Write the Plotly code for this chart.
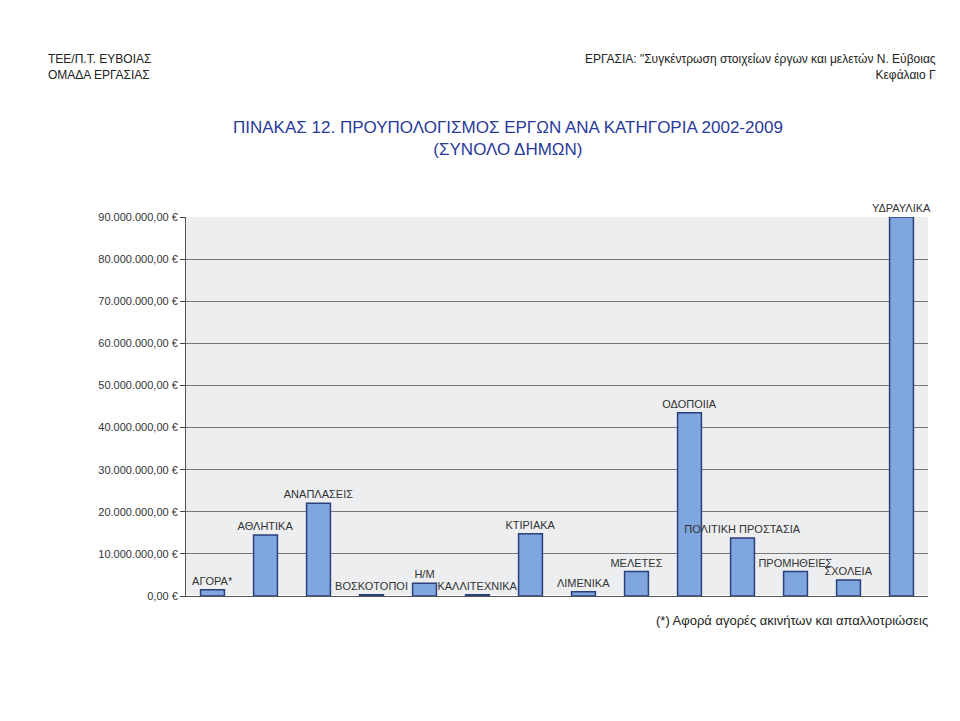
import plotly.graph_objects as go

categories = ["ΑΓΟΡΑ*", "ΑΘΛΗΤΙΚΑ", "ΑΝΑΠΛΑΣΕΙΣ", "ΒΟΣΚΟΤΟΠΟΙ", "Η/Μ", "ΚΑΛΛΙΤΕΧΝΙΚΑ",
              "ΚΤΙΡΙΑΚΑ", "ΛΙΜΕΝΙΚΑ", "ΜΕΛΕΤΕΣ", "ΟΔΟΠΟΙΙΑ", "ΠΟΛΙΤΙΚΗ ΠΡΟΣΤΑΣΙΑ",
              "ΠΡΟΜΗΘΕΙΕΣ", "ΣΧΟΛΕΙΑ", "ΥΔΡΑΥΛΙΚΑ"]
values = [1500000, 14500000, 22000000, 300000, 3000000, 300000,
          14800000, 1000000, 5800000, 43500000, 13800000,
          5800000, 3800000, 90000000]
tick_vals = [0, 10e6, 20e6, 30e6, 40e6, 50e6, 60e6, 70e6, 80e6, 90e6]
tick_text = ["0,00 €"] + [f"{int(v/1e6)}.000.000,00 €" for v in tick_vals[1:]]

fig = go.Figure(go.Bar(
    x=categories, y=values, text=categories, textposition="outside",
    cliponaxis=False, width=0.45, constraintext="none", textangle=0,
    marker=dict(color="#7fa6df", line=dict(color="#2b3f7a", width=1.5)),
    textfont=dict(family="Liberation Sans", size=11, color="#333"),
))
W, L, R, T, B = 960, 178, 40, 209, 133
pw, ph = W - L - R, 721 - T - B

def px(x):
    return (x - L) / pw

def py(y):
    return (721 - B - y) / ph

fig.update_layout(
    width=960, height=721, paper_bgcolor="white", plot_bgcolor="#eceef0",
    margin=dict(l=L, r=R, t=T, b=B),
    showlegend=False, uniformtext=dict(mode=False),
    font=dict(family="Liberation Sans", color="#222"),
    xaxis=dict(showticklabels=False, showline=True, linecolor="#555"),
    yaxis=dict(range=[0, 90e6], tickvals=tick_vals, ticktext=tick_text,
               gridcolor="#777", showline=True, linecolor="#555", ticks="outside",
               tickfont=dict(size=11, color="#333")),
    annotations=[
        dict(text="ΤΕΕ/Π.Τ. ΕΥΒΟΙΑΣ<br>ΟΜΑΔΑ ΕΡΓΑΣΙΑΣ", x=px(38), y=py(42), xref="paper", yref="paper",
             showarrow=False, align="left", xanchor="left", yanchor="top", font=dict(size=12)),
        dict(text="ΕΡΓΑΣΙΑ: \"Συγκέντρωση στοιχείων έργων και μελετών Ν. Εύβοιας<br>Κεφάλαιο Γ",
             x=px(930), y=py(42), xref="paper", yref="paper",
             showarrow=False, align="right", xanchor="right", yanchor="top", font=dict(size=12)),
        dict(text="ΠΙΝΑΚΑΣ 12. ΠΡΟΥΠΟΛΟΓΙΣΜΟΣ ΕΡΓΩΝ ΑΝΑ ΚΑΤΗΓΟΡΙΑ 2002-2009<br>(ΣΥΝΟΛΟ ΔΗΜΩΝ)",
             x=px(500), y=py(108), xref="paper", yref="paper", showarrow=False, align="center",
             xanchor="center", yanchor="top", font=dict(size=17, color="#2a3a9a")),
        dict(text="(*) Αφορά αγορές ακινήτων και απαλλοτριώσεις", x=px(922), y=py(603),
             xref="paper", yref="paper", showarrow=False,
             xanchor="right", yanchor="top", font=dict(size=13)),
    ],
)
fig.write_html("out.html")
